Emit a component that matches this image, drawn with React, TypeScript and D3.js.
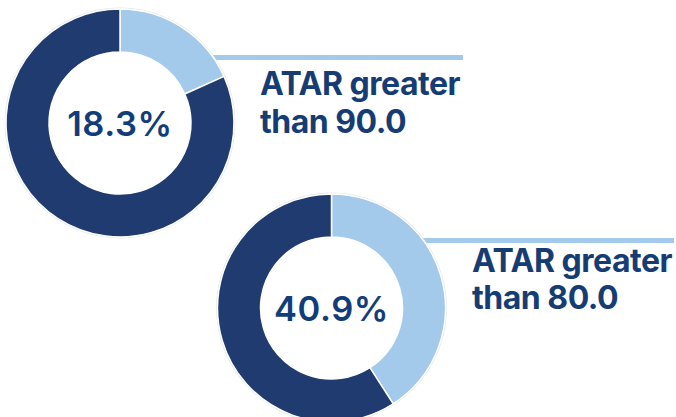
import * as d3 from "d3";

// share of students above each ATAR threshold (%)
const thresholds = ["90.0", "80.0"];
const shares = [18.3, 40.9];
const labelFirstLine = "ATAR greater";

const DARK = "#1f3b6f";
const LIGHT = "#a3c9eb";
const TEXT = "#163c74";
const CENTER_TEXT = "#113d7a";

const W = 676;
const H = 417;
const R = 114;
const r = 71;

// donut centres and label anchors
const layout = [
  { cx: 120, cy: 123, lineY: 57.5, lineX2: 463, textX: 260, base1: 95, base2: 133 },
  { cx: 331.5, cy: 308, lineY: 240.5, lineX2: 674, textX: 472, base1: 272, base2: 309 },
];

const pie = d3
  .pie<number>()
  .sort(null)
  .value((d) => d);

const arc = d3.arc<d3.PieArcDatum<number>>().innerRadius(r).outerRadius(R);

export default function App() {
  return (
    <div style={{ position: "absolute", left: 0, top: 0 }}>
      <svg width={W} height={H} viewBox={`0 0 ${W} ${H}`} style={{ display: "block", background: "#fff" }}>
        {shares.map((s, i) => {
          const L = layout[i];
          const arcs = pie([s, 100 - s]);
          return (
            <g key={i}>
              <line
                x1={L.cx + 60}
                x2={L.lineX2}
                y1={L.lineY}
                y2={L.lineY}
                stroke={LIGHT}
                strokeWidth={5}
              />
              <g transform={`translate(${L.cx},${L.cy})`}>
                <circle r={R + 0.8} fill="none" stroke="#e4e6ea" strokeWidth={1.2} />
                {arcs.map((a, j) => (
                  <path
                    key={j}
                    d={arc(a) ?? ""}
                    fill={j === 0 ? LIGHT : DARK}
                    stroke="#fff"
                    strokeWidth={1.5}
                  />
                ))}
                <circle r={r} fill="#fff" />
                <text
                  y={13}
                  textAnchor="middle"
                  fontFamily="Inter, 'Noto Sans', sans-serif"
                  fontWeight={600}
                  fontSize={34.5}
                  letterSpacing={0.6}
                  fill={CENTER_TEXT}
                >
                  {`${s.toFixed(1)}%`}
                </text>
              </g>
              <text
                fontFamily="Inter, 'Noto Sans', sans-serif"
                fontWeight={700}
                fontSize={32}
                letterSpacing={-0.5}
                fill={TEXT}
              >
                <tspan x={L.textX} y={L.base1}>
                  {labelFirstLine}
                </tspan>
                <tspan x={L.textX} y={L.base2}>
                  {`than ${thresholds[i]}`}
                </tspan>
              </text>
            </g>
          );
        })}
      </svg>
    </div>
  );
}
